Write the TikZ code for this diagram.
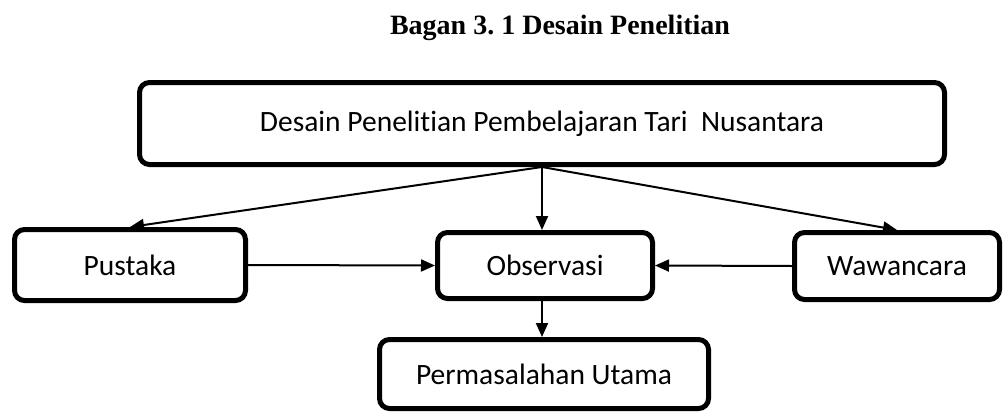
\documentclass[tikz,border=0pt]{standalone}
\usepackage{fontspec}
\setmainfont{Carlito}[RawFeature={-liga;-clig;-calt;-dlig}]
\newfontfamily\titlefont{Liberation Serif}
\usetikzlibrary{arrows.meta}
\frenchspacing
\begin{document}
\begin{tikzpicture}[x=1pt,y=-1pt,
  boxnode/.style={draw=black, line width=5pt, rounded corners=10pt, align=center,
    font=\fontsize{29.5}{34}\selectfont, inner sep=0pt},
  conn/.style={line width=2pt, -{Triangle[length=14pt,width=12pt]}}]
\useasboundingbox (0,0) rectangle (1004,413);
\node[font=\titlefont\bfseries\fontsize{28}{32}\selectfont] (title) at (560,28) {Bagan 3. 1 Desain Penelitian};
\node[boxnode, minimum width=805pt, minimum height=82pt] (top) at (542,123.5) {Desain Penelitian Pembelajaran Tari\ \ Nusantara};
\node[boxnode, minimum width=231pt, minimum height=71pt] (pustaka) at (130,265) {Pustaka};
\node[boxnode, minimum width=215pt, minimum height=66pt] (obs) at (545,265.5) {Observasi};
\node[boxnode, minimum width=205pt, minimum height=67pt] (waw) at (897,266) {Wawancara};
\node[boxnode, minimum width=329pt, minimum height=69pt] (perm) at (544,374) {Permasalahan Utama};
\coordinate (obstop) at (top.south |- obs.north);
\coordinate (obsbot) at (top.south |- obs.south);
\coordinate (permtop) at (top.south |- perm.north);
\draw[conn] (top.south) -- (pustaka.north);
\draw[conn] (top.south) -- (obstop);
\draw[conn] (top.south) -- (waw.north);
\draw[conn] (pustaka.east) -- (obs.west);
\draw[conn] (waw.west) -- (obs.east);
\draw[conn] (obsbot) -- (permtop);
\end{tikzpicture}
\end{document}
